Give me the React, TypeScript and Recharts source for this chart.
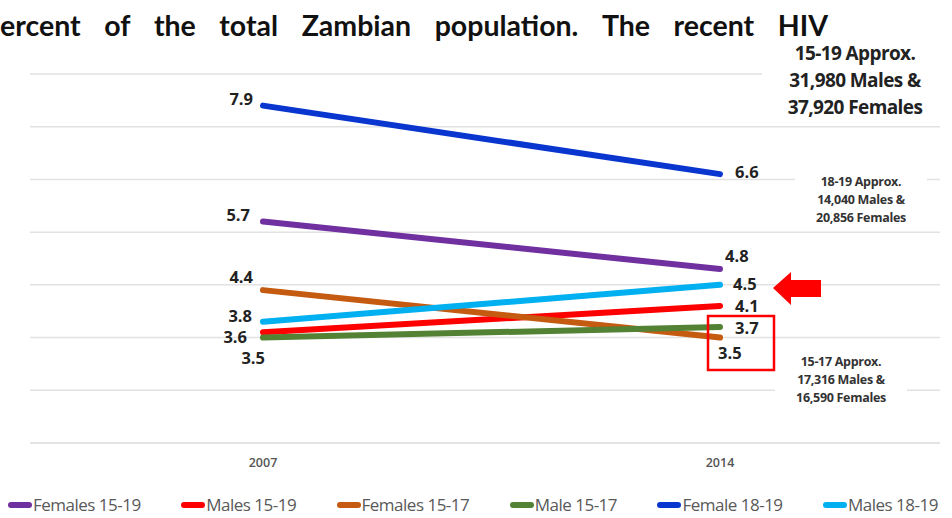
import React from "react";
import {
  LineChart,
  Line,
  XAxis,
  YAxis,
  CartesianGrid,
  Legend,
  LabelList,
} from "recharts";

const years = ["2007", "2014"];
const females1519 = [5.7, 4.8];
const males1519 = [3.6, 4.1];
const females1517 = [4.4, 3.5];
const males1517 = [3.5, 3.7];
const females1819 = [7.9, 6.6];
const males1819 = [3.8, 4.5];
const yTicks = [1.5, 2.5, 3.5, 4.5, 5.5, 6.5, 7.5, 8.5];

const headline = ["ercent", "of", "the", "total", "Zambian", "population.", "The", "recent", "HIV"];

type Anchor = "start" | "end";

// label nudges per series, one entry per year: [dx, dy, anchor]
const series: {
  key: string;
  name: string;
  color: string;
  values: number[];
  labels: [number, number, Anchor][];
}[] = [
  { key: "f1519", name: "Females 15-19", color: "#7030A0", values: females1519, labels: [[-13, -7, "end"], [5, -14, "start"]] },
  { key: "m1519", name: "Males 15-19", color: "#FF0000", values: males1519, labels: [[-16, 4, "end"], [15, 0, "start"]] },
  { key: "f1517", name: "Females 15-17", color: "#C55A11", values: females1517, labels: [[-10, -14, "end"], [-2, 15, "start"]] },
  { key: "m1517", name: "Male 15-17", color: "#548235", values: males1517, labels: [[2, 20, "end"], [15, 0, "start"]] },
  { key: "f1819", name: "Female 18-19", color: "#0A36D0", values: females1819, labels: [[-10, -7, "end"], [15, -3, "start"]] },
  { key: "m1819", name: "Males 18-19", color: "#00B0F0", values: males1819, labels: [[-11, -6, "end"], [13, -1, "start"]] },
];

const rows = years.map((year, i) => {
  const row: Record<string, string | number> = { year };
  series.forEach((s) => (row[s.key] = s.values[i]));
  return row;
});

const font = "'Open Sans', 'Noto Sans', sans-serif";

function makeLabel(pos: [number, number, Anchor][]) {
  return (props: any) => {
    const { x, y, value, index } = props;
    const [dx, dy, anchor] = pos[index] ?? [0, 0, "start"];
    return (
      <text
        x={x + dx}
        y={y + dy}
        textAnchor={anchor}
        dominantBaseline="central"
        fontSize={16.5}
        fontWeight={700}
        fontFamily={font}
        fill="#222"
      >
        {Number(value).toFixed(1)}
      </text>
    );
  };
}

function LegendRow() {
  return (
    <div
      style={{
        display: "flex",
        justifyContent: "space-between",
        padding: "0 14px 0 8px",
        fontFamily: font,
        fontSize: 17,
        letterSpacing: -0.5,
        color: "#595959",
        lineHeight: "24px",
      }}
    >
      {series.map((s) => (
        <span key={s.key} style={{ display: "flex", alignItems: "center" }}>
          <span
            style={{
              display: "inline-block",
              width: 24,
              height: 6,
              borderRadius: 3,
              background: s.color,
              marginRight: 1,
            }}
          />
          {s.name}
        </span>
      ))}
    </div>
  );
}

const noteBig: React.CSSProperties = {
  position: "absolute",
  background: "#fff",
  fontFamily: font,
  fontWeight: 700,
  fontSize: 19,
  lineHeight: "27px",
  color: "#222",
  textAlign: "center",
  letterSpacing: -0.6,
};

const noteSmall: React.CSSProperties = {
  position: "absolute",
  background: "#fff",
  fontFamily: font,
  fontWeight: 700,
  fontSize: 12.5,
  lineHeight: "18px",
  color: "#333",
  textAlign: "center",
  letterSpacing: -0.3,
  padding: "0 4px",
};

export default function App() {
  return (
    <div style={{ position: "absolute", left: 0, top: 0, width: 952, height: 518, background: "#fff" }}>
      <LineChart
        width={952}
        height={518}
        data={rows}
        margin={{ top: 74, right: 12, bottom: 21, left: 30 }}
      >
        <CartesianGrid vertical={false} stroke="#e2e2e2" strokeWidth={1.5} />
        <XAxis
          dataKey="year"
          scale="point"
          padding={{ left: 233, right: 220 }}
          height={30}
          axisLine={{ stroke: "#e2e2e2", strokeWidth: 1.5 }}
          tickLine={false}
          tickMargin={9}
          tick={{ fontSize: 12.5, fill: "#555", fontFamily: font, fontWeight: 600 }}
        />
        <YAxis hide domain={[1.5, 8.5]} ticks={yTicks} />
        <Legend
          verticalAlign="bottom"
          content={() => <LegendRow />}
          wrapperStyle={{ top: 493, left: 0, width: 952, height: 24 }}
        />
        {series.map((s) => (
          <Line
            key={s.key}
            type="linear"
            dataKey={s.key}
            name={s.name}
            stroke={s.color}
            strokeWidth={6}
            strokeLinecap="round"
            dot={false}
            isAnimationActive={false}
          >
            <LabelList dataKey={s.key} content={makeLabel(s.labels)} />
          </Line>
        ))}
      </LineChart>

      <div
        style={{
          position: "absolute",
          left: 0,
          top: 8,
          width: 828,
          display: "flex",
          justifyContent: "space-between",
          fontFamily: "Lato, sans-serif",
          fontWeight: 700,
          fontSize: 28.5,
          lineHeight: "34px",
          color: "#111",
        }}
      >
        {headline.map((w, i) => (
          <span key={i}>{w}</span>
        ))}
      </div>

      <div style={{ ...noteBig, left: 762, top: 40, width: 186 }}>
        15-19 Approx.
        <br />
        31,980 Males &amp;
        <br />
        37,920 Females
      </div>
      <div style={{ ...noteSmall, left: 795, top: 173, width: 124 }}>
        18-19 Approx.
        <br />
        14,040 Males &amp;
        <br />
        20,856 Females
      </div>
      <div style={{ ...noteSmall, left: 775, top: 353, width: 124 }}>
        15-17 Approx.
        <br />
        17,316 Males &amp;
        <br />
        16,590 Females
      </div>

      <svg
        width={952}
        height={518}
        style={{ position: "absolute", left: 0, top: 0, pointerEvents: "none" }}
      >
        <polygon
          points="773,288 791,272 791,280 821,280 821,297 791,297 791,305"
          fill="#FF0000"
        />
        <rect x={708} y={316} width={66} height={54} fill="none" stroke="#FF0000" strokeWidth={2.5} />
      </svg>
    </div>
  );
}
